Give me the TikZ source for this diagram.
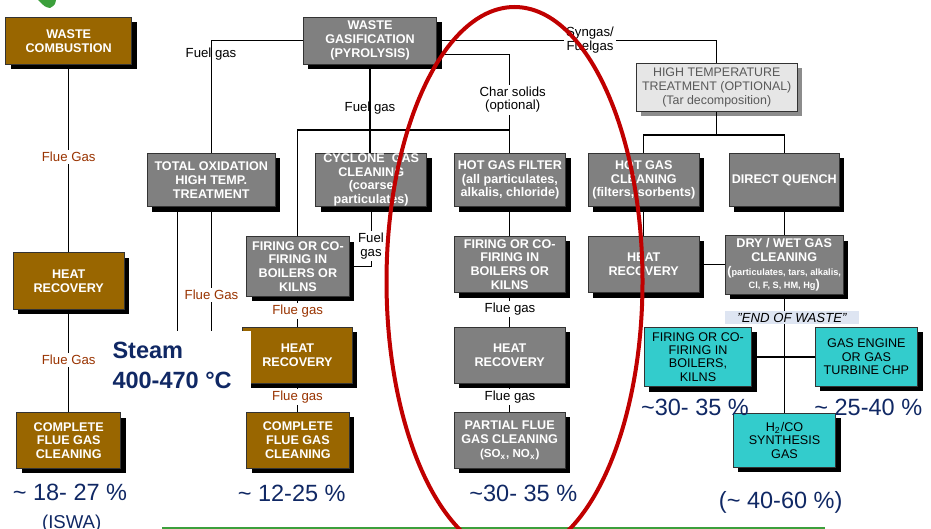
\documentclass[tikz,border=0pt]{standalone}
\usepackage{fontspec}
\setmainfont{Liberation Sans}
\usetikzlibrary{shadows}

\definecolor{wbrown}{RGB}{153,102,0}
\definecolor{wgrey}{RGB}{128,128,128}
\definecolor{wcyan}{RGB}{51,204,204}
\definecolor{wlight}{RGB}{230,230,230}
\definecolor{fluecol}{RGB}{153,51,0}
\definecolor{pctcol}{RGB}{16,40,100}
\definecolor{ringred}{RGB}{192,0,0}
\definecolor{eowbg}{RGB}{222,229,242}
\definecolor{barcol}{RGB}{60,160,60}

\newcommand{\boxfont}{\fontsize{6.3}{6.9}\selectfont\bfseries}
\newcommand{\tinybox}{\fontsize{4.6}{6.9}\selectfont}
\newcommand{\cyanfont}{\fontsize{6.3}{6.65}\selectfont}
\newcommand{\lightfont}{\fontsize{6.2}{7}\selectfont}
\newcommand{\lblfont}{\fontsize{6.6}{6.7}\selectfont}
\newcommand{\pctfont}{\fontsize{11.75}{14}\selectfont}

\tikzset{
  wbox/.style={rectangle, draw=black!80, line width=0.5pt, inner sep=0pt, align=center},
  wshadow/.style={drop shadow={shadow xshift=2.5pt, shadow yshift=-2.5pt, fill=#1, opacity=1}},
  brownbox/.style={wbox, wshadow=black, fill=wbrown, text=white, font=\boxfont},
  greybox/.style={wbox, wshadow=black, fill=wgrey, text=white, font=\boxfont},
  cyanbox/.style={wbox, wshadow=black, fill=wcyan, text=black, font=\cyanfont},
  lightbox/.style={wbox, wshadow=black!45, fill=wlight, text=black!65, font=\lightfont},
  flue/.style={text=fluecol, font=\lblfont, fill=white, inner sep=1pt},
  fuel/.style={text=black, font=\lblfont, inner sep=1pt, align=center},
  pct/.style={text=pctcol, font=\pctfont, anchor=base, inner sep=0pt},
  steamtxt/.style={text=pctcol, font=\pctfont\bfseries, anchor=base west, inner sep=0pt},
  ring/.style={draw=ringred, line width=2pt},
}

\begin{document}
\begin{tikzpicture}[x=0.5pt, y=-0.5pt, line width=0.55pt]
  % page frame (pixel grid of the slide)
  \useasboundingbox (0,0) rectangle (931,529);

  % green arrow tip, top left
  \fill[barcol] (38,0) -- (56,0) .. controls (55,5) .. (50,8) .. controls (45,7) .. (38,0);

  % left column: combustion
  \node[brownbox, minimum width=63pt, minimum height=23.5pt] (comb) at (68.7,40.8) {WASTE\\COMBUSTION};
  \node[brownbox, minimum width=55.4pt, minimum height=28.3pt] (hrone) at (68.7,281) {HEAT\\RECOVERY};
  \node[brownbox, minimum width=52pt, minimum height=27.8pt] (cfgone) at (68.7,440.5) {COMPLETE\\FLUE GAS\\CLEANING};

  % gasification and its branches
  \node[greybox, minimum width=66.7pt, minimum height=23.35pt] (gasif) at (370,40.7) {WASTE\\GASIFICATION\\(PYROLYSIS)};
  \node[greybox, minimum width=63.85pt, minimum height=26.7pt] (totox) at (211.2,180) {TOTAL OXIDATION\\HIGH TEMP.\\TREATMENT};
  \node[greybox, minimum width=55.5pt, minimum height=26.7pt] (cyclone) at (371.2,180) {CYCLONE\ \ GAS\\CLEANING\\(coarse\\particulates)};
  \node[greybox, minimum width=55.85pt, minimum height=26.7pt] (hgf) at (509.9,180) {HOT GAS FILTER\\(all particulates,\\alkalis, chloride)};
  \node[greybox, minimum width=55.5pt, minimum height=26.7pt] (hgc) at (643.8,180) {HOT GAS\\CLEANING\\(filters, sorbents)};
  \node[greybox, minimum width=55pt, minimum height=26.7pt] (quench) at (784.3,180) {DIRECT QUENCH};
  \node[lightbox, minimum width=80.65pt, minimum height=23.85pt] (hitemp) at (716.7,87.2) {HIGH TEMPERATURE\\TREATMENT (OPTIONAL)\\(Tar decomposition)};

  \node[greybox, minimum width=51.15pt, minimum height=29.65pt] (fireone) at (297.9,266.4) {FIRING OR CO-\\FIRING IN\\BOILERS OR\\KILNS};
  \node[greybox, minimum width=55.35pt, minimum height=28.35pt] (firetwo) at (509.7,264.4) {FIRING OR CO-\\FIRING IN\\BOILERS OR\\KILNS};
  \node[greybox, minimum width=55.35pt, minimum height=28.35pt] (hrthree) at (643.7,264.4) {HEAT\\RECOVERY};
  \node[greybox, minimum width=59.15pt, minimum height=29pt] (drywet) at (784.2,265)
    {DRY / WET GAS\\CLEANING\\({\tinybox particulates, tars, alkalis,}\\{\tinybox Cl, F, S, HM, Hg})};

  \node[brownbox, minimum width=54.8pt, minimum height=28pt] (hrtwo) at (297.5,355.3) {HEAT\\RECOVERY};
  \node[greybox, minimum width=55.35pt, minimum height=28pt] (hrgrey) at (509.7,355.3) {HEAT\\RECOVERY};
  \node[brownbox, minimum width=51.15pt, minimum height=28pt] (cfgtwo) at (297.9,440.3) {COMPLETE\\FLUE GAS\\CLEANING};
  \node[greybox, minimum width=55.35pt, minimum height=28pt] (pfgc) at (509.7,440.3)
    {PARTIAL FLUE\\GAS CLEANING\\{\fontsize{5.8}{6.9}\selectfont(SO\textsubscript{x}, NO\textsubscript{x})}};

  \node[cyanbox, minimum width=53.7pt, minimum height=29.7pt] (firec) at (698,357) {FIRING OR CO-\\FIRING IN\\BOILERS,\\KILNS};
  \node[cyanbox, minimum width=51.35pt, minimum height=29.35pt] (engine) at (866.4,356.7) {GAS ENGINE\\OR GAS\\TURBINE CHP};
  \node[cyanbox, minimum width=51.2pt, minimum height=27pt] (syngas) at (784.5,440.3) {H\textsubscript{2}/CO\\SYNTHESIS\\GAS};

  % connectors
  \draw (comb.south) -- (hrone.north);
  \draw (hrone.south) -- (cfgone.north);
  \draw (gasif.west) -| (totox.north);
  \coordinate (stone) at (177.3,340);
  \coordinate (sttwo) at (211.2,340);
  \draw (totox.south -| stone) -- (stone);
  \draw (totox.south) -- (sttwo);
  \draw (gasif.south) -- (gasif.south |- cyclone.north);
  \coordinate (bar) at (0,130);
  \draw (fireone.north) -- (fireone.north |- bar) -- (hgf.north |- bar);
  \coordinate (charjn) at (509.9,54.3);
  \draw (gasif.east |- charjn) -- (charjn) -- (hgf.north);
  \draw (gasif.east) -| (hitemp.north);
  \coordinate (hbar) at (0,135);
  \draw (hitemp.south) -- (hitemp.south |- hbar);
  \draw (hgc.north) -- (hgc.north |- hbar) -- (quench.north |- hbar) -- (quench.north);
  \draw (cyclone.south) |- (fireone.east);
  \draw (fireone.south) -- (fireone.south |- hrtwo.north);
  \draw (hrtwo.south) -- (hrtwo.south |- cfgtwo.north);
  \draw (hgf.south) -- (hgf.south |- firetwo.north);
  \draw (firetwo.south) -- (hrgrey.north);
  \draw (hrgrey.south) -- (pfgc.north);
  \draw (hgc.south) -- (hgc.south |- hrthree.north);
  \draw (hrthree.east) -- (hrthree.east -| drywet.west);
  \draw (quench.south) -- (quench.south |- drywet.north);
  \draw (drywet.south) -- (drywet.south |- syngas.north);
  \draw (firec.east) -- (firec.east -| engine.west);

  % steam note (white patch over lines and box)
  \fill[white] (105,331) rectangle (251,393);
  \node[steamtxt] (steam) at (112,358.4) {Steam};
  \node[steamtxt] (steamtemp) at (112,388.3) {400-470 °C};

  % connector labels
  \node[flue] (lfa) at (68.7,157) {Flue Gas};
  \node[flue] (lfb) at (68.7,360) {Flue Gas};
  \node[fuel] (lfc) at (211,54) {Fuel gas};
  \node[fuel] (lfd) at (370,108) {Fuel gas};
  \node[flue] (lfe) at (211.5,295) {Flue Gas};
  \node[fuel, fill=white] (lff) at (371,246) {Fuel\\gas};
  \node[flue] (lfg) at (297.7,310.7) {Flue gas};
  \node[flue] (lfh) at (297.5,396.7) {Flue gas};
  \node[fuel, fill=white] (lchar) at (512.7,99.7) {Char solids\\(optional)};
  \node[fuel, fill=white] (lsyn) at (590,40) {Syngas/\\Fuelgas};
  \node[fuel, fill=white] (lfi) at (510,309.3) {Flue gas};
  \node[fuel, fill=white] (lfj) at (510,397.3) {Flue gas};
  \node[fill=eowbg, inner sep=0pt, minimum width=67pt, minimum height=6.65pt, font=\fontsize{6.6}{7}\selectfont\itshape] (eow) at (792,317.7) {"END OF WASTE"};

  % efficiencies
  \node[pct] (pa) at (70,500) {\textasciitilde{} 18- 27 \%};
  \node[pct, font=\fontsize{9.3}{10}\selectfont] (pb) at (71.7,528) {(ISWA)};
  \node[pct] (pc) at (291.7,501.7) {\textasciitilde{} 12-25 \%};
  \node[pct] (pd) at (523.3,501.7) {\textasciitilde30- 35 \%};
  \node[pct] (pe) at (695,415) {\textasciitilde30- 35 \%};
  \node[pct] (pf) at (868.3,415) {\textasciitilde{} 25-40 \%};
  \node[pct] (pg) at (780.7,508.3) {(\textasciitilde{} 40-60 \%)};

  % bottom rule and red ring
  \draw[barcol, line width=0.7pt] (162,528) -- (825,528);
  \draw[ring] (514.5,281.4) ellipse [x radius=64pt, y radius=137.2pt];
\end{tikzpicture}
\end{document}
